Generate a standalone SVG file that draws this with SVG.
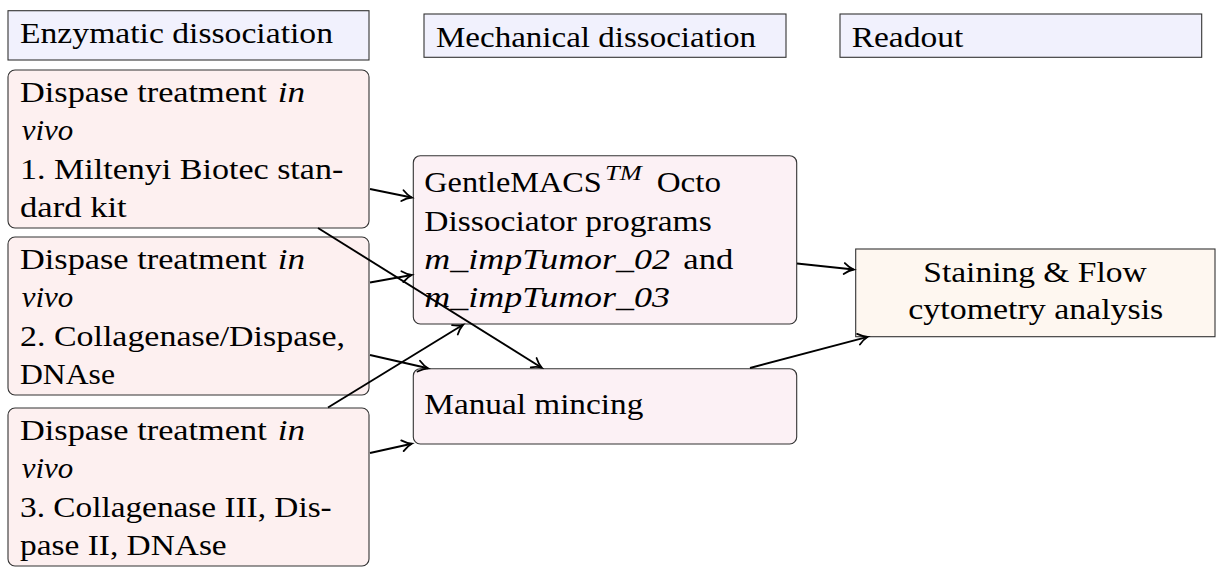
<svg xmlns="http://www.w3.org/2000/svg" width="1216" height="568" viewBox="0 0 1216 568">
<defs>
<style>
text{font-family:"Liberation Serif","Times New Roman",serif;font-size:30px;fill:#000;}
.it{font-style:italic;}
.hdr{fill:#f1f1fd;stroke:#333;stroke-width:1.1;}
.enz{fill:#fdf0f0;stroke:#333;stroke-width:1.1;}
.mech{fill:#fcf1f5;stroke:#333;stroke-width:1.1;}
.out{fill:#fef7f0;stroke:#333;stroke-width:1.1;}
.conn line{stroke:#000;stroke-width:1.9;fill:none;marker-end:url(#arr);}
</style>
<marker id="arr" markerUnits="userSpaceOnUse" markerWidth="16" markerHeight="16" viewBox="-12 -8 14 16" refX="0" refY="0" orient="auto">
<path d="M-9.5,-5.5 C-6.5,-3 -3,-0.9 0,0 C-3,0.9 -6.5,3 -9.5,5.5" fill="none" stroke="#000" stroke-width="1.8" stroke-linecap="round"/>
</marker>
</defs>

<g id="hdr-enzymatic">
<rect class="hdr" x="8" y="10.7" width="361" height="49.3"/>
<text x="20" y="43.3" textLength="313" lengthAdjust="spacingAndGlyphs">Enzymatic dissociation</text>
</g>
<g id="hdr-mechanical">
<rect class="hdr" x="424" y="14" width="362" height="43.3"/>
<text x="436" y="46.8" textLength="320" lengthAdjust="spacingAndGlyphs">Mechanical dissociation</text>
</g>
<g id="hdr-readout">
<rect class="hdr" x="840" y="14" width="361.7" height="43.3"/>
<text x="851.7" y="46.8" textLength="111.5" lengthAdjust="spacingAndGlyphs">Readout</text>
</g>

<g id="enz1">
<rect class="enz" x="8" y="70" width="361" height="158" rx="7"/>
<text x="20" y="102" textLength="246.7" lengthAdjust="spacingAndGlyphs">Dispase treatment</text>
<text class="it" x="277.7" y="102" textLength="27.3" lengthAdjust="spacingAndGlyphs">in</text>
<text class="it" x="21.7" y="140" textLength="51.6" lengthAdjust="spacingAndGlyphs">vivo</text>
<text x="20" y="179" textLength="323.3" lengthAdjust="spacingAndGlyphs">1.  Miltenyi Biotec stan-</text>
<text x="20" y="217" textLength="106.7" lengthAdjust="spacingAndGlyphs">dard kit</text>
</g>

<g id="enz2">
<rect class="enz" x="8" y="237" width="361" height="158" rx="7"/>
<text x="20" y="269" textLength="246.7" lengthAdjust="spacingAndGlyphs">Dispase treatment</text>
<text class="it" x="277.7" y="269" textLength="27.3" lengthAdjust="spacingAndGlyphs">in</text>
<text class="it" x="21.7" y="307" textLength="51.6" lengthAdjust="spacingAndGlyphs">vivo</text>
<text x="20" y="346" textLength="325" lengthAdjust="spacingAndGlyphs">2.  Collagenase/Dispase,</text>
<text x="20" y="384" textLength="95" lengthAdjust="spacingAndGlyphs">DNAse</text>
</g>

<g id="enz3">
<rect class="enz" x="8" y="408" width="361" height="158" rx="7"/>
<text x="20" y="440" textLength="246.7" lengthAdjust="spacingAndGlyphs">Dispase treatment</text>
<text class="it" x="277.7" y="440" textLength="27.3" lengthAdjust="spacingAndGlyphs">in</text>
<text class="it" x="21.7" y="478" textLength="51.6" lengthAdjust="spacingAndGlyphs">vivo</text>
<text x="20" y="517" textLength="311.7" lengthAdjust="spacingAndGlyphs">3.  Collagenase III, Dis-</text>
<text x="20" y="555" textLength="206.7" lengthAdjust="spacingAndGlyphs">pase II, DNAse</text>
</g>

<g id="gentlemacs">
<rect class="mech" x="413.3" y="155.7" width="383.4" height="168.3" rx="7"/>
<text x="424.3" y="191.7" textLength="177.4" lengthAdjust="spacingAndGlyphs">GentleMACS</text>
<text class="it" x="605" y="179.5" style="font-size:21px" textLength="36.7" lengthAdjust="spacingAndGlyphs">TM</text>
<text x="656.7" y="191.7" textLength="64.3" lengthAdjust="spacingAndGlyphs">Octo</text>
<text x="424.3" y="230.5" textLength="287.4" lengthAdjust="spacingAndGlyphs">Dissociator programs</text>
<text class="it" x="424.3" y="268.5" textLength="245.7" lengthAdjust="spacingAndGlyphs">m_impTumor_02</text>
<text x="683.3" y="268.5" textLength="50" lengthAdjust="spacingAndGlyphs">and</text>
<text class="it" x="424.3" y="306.7" textLength="245.7" lengthAdjust="spacingAndGlyphs">m_impTumor_03</text>
</g>

<g id="manual">
<rect class="mech" x="413.3" y="368.7" width="383.4" height="75.3" rx="7"/>
<text x="424.3" y="414" textLength="219" lengthAdjust="spacingAndGlyphs">Manual mincing</text>
</g>

<g id="staining">
<rect class="out" x="855.7" y="249" width="359.3" height="87.7"/>
<text x="1035" y="281.7" text-anchor="middle" textLength="223.4" lengthAdjust="spacingAndGlyphs">Staining &amp; Flow</text>
<text x="1035.8" y="318.5" text-anchor="middle" textLength="255" lengthAdjust="spacingAndGlyphs">cytometry analysis</text>
</g>

<g id="connectors" class="conn">
<line x1="370" y1="189" x2="411.7" y2="197.5"/>
<line x1="318" y1="228" x2="541.7" y2="367.7"/>
<line x1="370" y1="282.5" x2="411.7" y2="275"/>
<line x1="370" y1="355" x2="428" y2="368.3"/>
<line x1="328" y1="407.5" x2="463" y2="324.8"/>
<line x1="370" y1="453" x2="411.7" y2="443.7"/>
<line x1="797" y1="263.5" x2="853.7" y2="269.5"/>
<line x1="750" y1="368" x2="867.7" y2="336.8"/>
</g>
</svg>
